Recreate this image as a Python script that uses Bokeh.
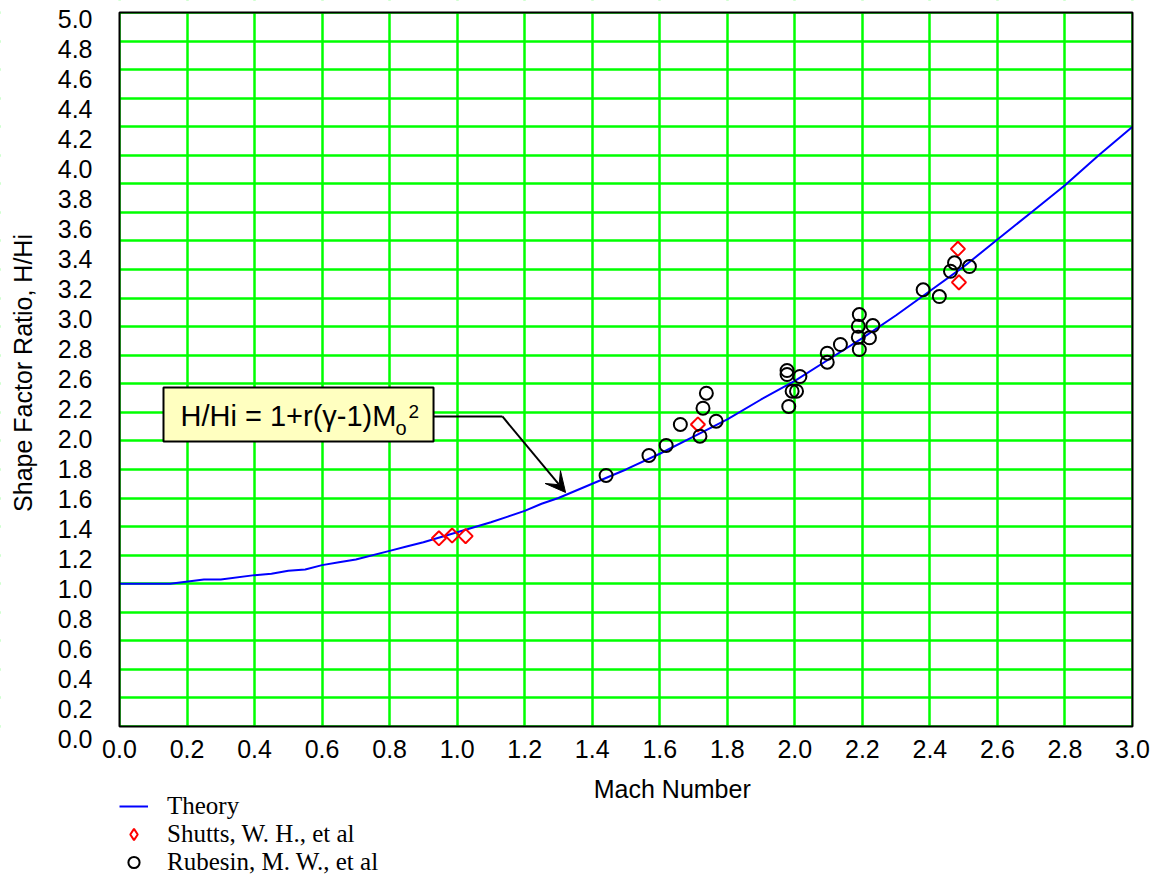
import math
from bokeh.plotting import figure
from bokeh.models import (Range1d, LinearAxis, FixedTicker, PrintfTickFormatter, Legend,
                          LegendItem, Label, BoxAnnotation, Arrow, VeeHead)
from bokeh.embed import file_html
from bokeh.resources import INLINE

# ---------------- data ----------------
theory_mach = [0.0, 0.15, 0.25, 0.30, 0.40, 0.45, 0.50, 0.55, 0.60, 0.65, 0.70, 0.80, 0.85,
               0.90, 1.00, 1.10, 1.15, 1.20, 1.25, 1.30, 1.40, 1.50, 1.60, 1.70, 1.80, 1.90,
               2.00, 2.10, 2.20, 2.30, 2.40, 2.50, 2.60, 2.70, 2.80, 2.90, 3.00]
theory_ratio = [1.00, 1.00, 1.03, 1.03, 1.06, 1.07, 1.09, 1.10, 1.13, 1.15, 1.17, 1.23, 1.26,
                1.29, 1.36, 1.43, 1.47, 1.51, 1.56, 1.60, 1.70, 1.80, 1.91, 2.03, 2.15, 2.29,
                2.42, 2.57, 2.72, 2.88, 3.05, 3.22, 3.41, 3.60, 3.79, 4.00, 4.20]

shutts_mach = [0.946, 0.985, 1.025, 1.713, 2.483, 2.486]
shutts_ratio = [1.318, 1.337, 1.333, 2.115, 3.345, 3.110]

rubesin_mach = [1.441, 1.568, 1.619, 1.661, 1.719, 1.728, 1.738, 1.767,
                1.977, 1.977, 2.015, 1.992, 2.005, 1.982, 2.096, 2.096, 2.135,
                2.191, 2.188, 2.188, 2.191, 2.231, 2.221,
                2.473, 2.461, 2.517, 2.380, 2.428]
rubesin_ratio = [1.758, 1.898, 1.968, 2.115, 2.033, 2.229, 2.334, 2.138,
                 2.493, 2.465, 2.451, 2.348, 2.348, 2.241, 2.614, 2.551, 2.675,
                 2.885, 2.803, 2.726, 2.640, 2.808, 2.722,
                 3.247, 3.188, 3.221, 3.058, 3.011]

x_tick_labels = ["0.0", "0.2", "0.4", "0.6", "0.8", "1.0", "1.2", "1.4", "1.6", "1.8",
                 "2.0", "2.2", "2.4", "2.6", "2.8", "3.0"]
y_tick_labels = ["5.0", "4.8", "4.6", "4.4", "4.2", "4.0", "3.8", "3.6", "3.4", "3.2",
                 "3.0", "2.8", "2.6", "2.2", "2.0", "1.8", "1.6", "1.4", "1.2", "1.0",
                 "0.8", "0.6", "0.4", "0.2", "0.0"]

series_names = ["Theory", "Shutts, W. H., et al", "Rubesin, M. W., et al"]
x_title = "Mach Number"
y_title = "Shape Factor Ratio,  H/Hi"
equation = "H/Hi = 1+r(\u03b3-1)M"

# ---------------- layout constants ----------------
SANS = "Liberation Sans"
SERIF = "Liberation Serif"
W, H = 1165, 875
PLOT_L, PLOT_R, PLOT_T, PLOT_B = 119, 1132, 12, 726   # pixel box of the data area
X_MAX, Y_MAX = 3.0, 5.0
px_x = (PLOT_R - PLOT_L) / X_MAX
px_y = (PLOT_B - PLOT_T) / Y_MAX
x_lo, x_hi = -PLOT_L / px_x, X_MAX + (W - PLOT_R) / px_x
y_lo, y_hi = Y_MAX - (H - PLOT_T) / px_y, Y_MAX + PLOT_T / px_y

# label rows of the y axis: evenly spaced, 30 px apart, first at 18 px
LAB_FIRST, LAB_STEP = 18, 30
lab_top = (0 - LAB_FIRST) / LAB_STEP
lab_bottom = (H - LAB_FIRST) / LAB_STEP

p = figure(width=W, height=H, x_range=Range1d(x_lo, x_hi), y_range=Range1d(y_lo, y_hi),
           output_backend="svg", toolbar_location=None, y_axis_location=None,
           min_border=0)
p.background_fill_color = "white"
p.border_fill_color = "white"
p.outline_line_color = None

# grids (uniform 0.2 spacing)
grid_x = [float(s) for s in x_tick_labels]
grid_y = [round(0.2 * i, 1) for i in range(26)]
p.xgrid.ticker = FixedTicker(ticks=grid_x)
p.ygrid.ticker = FixedTicker(ticks=grid_y)
for g in (p.xgrid, p.ygrid):
    g.grid_line_color = "#00FF00"
    g.grid_line_width = 2.5
    g.grid_line_alpha = 1.0

# white covers outside the data area (grid lines stop at the frame)
for kw in (dict(top=0), dict(bottom=Y_MAX), dict(right=0), dict(left=X_MAX)):
    p.add_layout(BoxAnnotation(fill_color="white", fill_alpha=1.0, line_color=None,
                               level="underlay", **kw))

# x axis drawn at y = 0
xa = p.xaxis[0]
xa.fixed_location = 0
xa.ticker = FixedTicker(ticks=grid_x)
xa.formatter = PrintfTickFormatter(format="%.1f")
xa.major_tick_in = 0
xa.major_tick_out = 0
xa.minor_tick_in = 0
xa.minor_tick_out = 0
xa.axis_line_color = None
xa.major_label_text_font = SANS
xa.major_label_text_font_size = "25px"
xa.major_label_text_color = "black"
xa.major_label_standoff = 13

# y axis at x = 0: labels evenly spaced on their own index range
n_lab = len(y_tick_labels)
p.extra_y_ranges = {"lab": Range1d(start=lab_bottom, end=lab_top)}
ya = LinearAxis(y_range_name="lab", fixed_location=0,
                ticker=FixedTicker(ticks=list(range(n_lab))),
                major_label_overrides={i: y_tick_labels[i] for i in range(n_lab)},
                bounds=(-1.3, n_lab - 1))
ya.major_tick_in = 0
ya.major_tick_out = 0
ya.minor_tick_in = 0
ya.minor_tick_out = 0
ya.axis_line_color = None
ya.major_label_text_font = SANS
ya.major_label_text_font_size = "25px"
ya.major_label_text_color = "black"
ya.major_label_standoff = 27
ya.axis_label = y_title
ya.axis_label_text_font = SANS
ya.axis_label_text_font_size = "25px"
ya.axis_label_text_font_style = "normal"
ya.axis_label_text_color = "black"
ya.axis_label_standoff = 18
p.add_layout(ya, "left")

# x title
p.add_layout(Label(x=1.637, y=-0.441, text=x_title, text_align="center",
                   text_baseline="middle", text_font=SANS, text_font_size="25px",
                   text_color="black"))

# ---------------- data glyphs ----------------
r_theory = p.line(theory_mach, theory_ratio, line_color="#0000FF", line_width=2)
r_shutts = p.scatter(shutts_mach, shutts_ratio, marker="square", angle=math.pi / 4,
                     size=10, fill_color=None, line_color="#FF0000", line_width=2)
r_rub = p.scatter(rubesin_mach, rubesin_ratio, marker="circle", size=13,
                  fill_color=None, line_color="black", line_width=2)
# legend swatch for the diamonds (hidden renderer, same data)
key_shutts = p.scatter(shutts_mach, shutts_ratio, marker="diamond", size=16,
                       fill_color=None, line_color="#FF0000", line_width=2, visible=False)

# plot-area frame
p.add_layout(BoxAnnotation(left=0, right=X_MAX, bottom=0, top=Y_MAX, fill_alpha=0.0,
                           line_color="black", line_width=2, line_alpha=1.0))

# ---------------- equation callout ----------------
p.add_layout(BoxAnnotation(left=0.1303, right=0.930, top=2.374, bottom=1.996,
                           fill_color="#FFFFC0", fill_alpha=1.0,
                           line_color="black", line_width=2, line_alpha=1.0))
p.add_layout(Label(x=0.1807, y=2.171, text=equation, text_align="left",
                   text_baseline="middle", text_font=SANS, text_font_size="29px",
                   text_color="black"))
p.add_layout(Label(x=0.8174, y=2.087, text="o", text_align="left",
                   text_baseline="middle", text_font=SANS, text_font_size="20px",
                   text_color="black"))
p.add_layout(Label(x=0.8559, y=2.206, text="2", text_align="left",
                   text_baseline="middle", text_font=SANS, text_font_size="19px",
                   text_color="black"))
p.add_layout(Arrow(end=None, x_start=0.930, y_start=2.171, x_end=1.134, y_end=2.171,
                   line_color="black", line_width=2))
p.add_layout(Arrow(end=VeeHead(size=20, fill_color="black", line_color="black"),
                   x_start=1.134, y_start=2.171, x_end=1.321, y_end=1.639,
                   line_color="black", line_width=2))

# ---------------- legend ----------------
legend = Legend(items=[LegendItem(label=series_names[0], renderers=[r_theory]),
                       LegendItem(label=series_names[1], renderers=[key_shutts]),
                       LegendItem(label=series_names[2], renderers=[r_rub])],
                location=(PLOT_L, -1), orientation="vertical",
                padding=0, margin=0, spacing=0,
                glyph_width=29, glyph_height=28, label_height=28,
                label_standoff=19, label_text_font=SERIF,
                label_text_font_size="25px", label_text_color="black",
                inactive_fill_alpha=0.0,
                border_line_color=None, background_fill_alpha=0.0)
p.add_layout(legend, "center")

open("out.html", "w").write(file_html(p, INLINE))
